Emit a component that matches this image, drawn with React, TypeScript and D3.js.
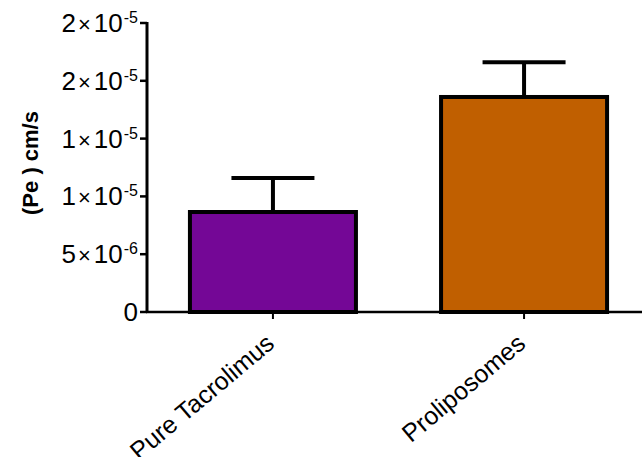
import React, { useRef, useEffect } from 'react';
import * as d3 from 'd3';

const categories = ['Pure Tacrolimus', 'Proliposomes'];
const means = [8.65e-6, 18.6e-6];
const errors = [2.95e-6, 3.0e-6];
const colors = ['#740796', '#C05F00'];
const tickValues = [0, 5e-6, 1e-5, 1.5e-5, 2e-5, 2.5e-5];
const tickMantissa = ['0', '5', '1', '1', '2', '2'];
const tickExponent = ['', '-6', '-5', '-5', '-5', '-5'];

export default function App() {
  const svgRef = useRef<SVGSVGElement>(null);

  useEffect(() => {
    const svg = d3.select(svgRef.current);
    svg.selectAll('*').remove();
    const font = 'Liberation Sans, Arial, sans-serif';

    const y = d3.scaleLinear().domain([0, 2.5e-5]).range([312, 23]);
    const x = d3.scaleBand<string>()
      .domain(categories)
      .range([147, 650])
      .paddingInner(0.323)
      .paddingOuter(0.163);

    const rows = categories.map((c, i) => ({ name: c, mean: means[i], err: errors[i], color: colors[i] }));

    // bars
    svg.selectAll('rect.bar')
      .data(rows)
      .enter()
      .append('rect')
      .attr('class', 'bar')
      .attr('x', d => x(d.name)! + 2)
      .attr('y', d => y(d.mean))
      .attr('width', x.bandwidth() - 4)
      .attr('height', d => y(0) - y(d.mean))
      .attr('fill', d => d.color)
      .attr('stroke', '#000')
      .attr('stroke-width', 4);

    // error bars (upper only)
    const cx = (d: any) => x(d.name)! + x.bandwidth() / 2;
    svg.selectAll('line.err')
      .data(rows)
      .enter()
      .append('line')
      .attr('x1', cx).attr('x2', cx)
      .attr('y1', d => y(d.mean) - 2)
      .attr('y2', d => y(d.mean + d.err))
      .attr('stroke', '#000')
      .attr('stroke-width', 4);
    svg.selectAll('line.cap')
      .data(rows)
      .enter()
      .append('line')
      .attr('x1', d => cx(d) - 41.5).attr('x2', d => cx(d) + 41.5)
      .attr('y1', d => y(d.mean + d.err))
      .attr('y2', d => y(d.mean + d.err))
      .attr('stroke', '#000')
      .attr('stroke-width', 4);

    // x axis
    const xa = svg.append('g');
    xa.append('line')
      .attr('x1', 146).attr('x2', 650)
      .attr('y1', y(0)).attr('y2', y(0))
      .attr('stroke', '#000').attr('stroke-width', 2.5);
    categories.forEach(c => {
      const px = x(c)! + x.bandwidth() / 2;
      xa.append('line')
        .attr('x1', px).attr('x2', px)
        .attr('y1', y(0)).attr('y2', y(0) + 7)
        .attr('stroke', '#000').attr('stroke-width', 2);
      xa.append('text')
        .attr('transform', `translate(${px + 3},${y(0) + 34}) rotate(-40)`)
        .attr('text-anchor', 'end')
        .attr('font-family', font)
        .attr('font-size', 25)
        .text(c);
    });

    // y axis
    const ya = svg.append('g');
    ya.append('line')
      .attr('x1', 147).attr('x2', 147)
      .attr('y1', y(2.5e-5) - 1).attr('y2', y(0) + 1)
      .attr('stroke', '#000').attr('stroke-width', 3);
    tickValues.forEach((v, i) => {
      ya.append('line')
        .attr('x1', 140).attr('x2', 147)
        .attr('y1', y(v)).attr('y2', y(v))
        .attr('stroke', '#000').attr('stroke-width', 2.5);
      const t = ya.append('text')
        .attr('x', 138)
        .attr('y', y(v) + 9)
        .attr('text-anchor', 'end')
        .attr('font-family', font)
        .attr('font-size', 26);
      t.append('tspan').text(tickMantissa[i]);
      if (tickExponent[i]) {
        t.append('tspan').attr('font-size', 22).attr('dx', 2).text('\u00d7');
        t.append('tspan').attr('dx', 3).text('10');
        t.append('tspan').attr('font-size', 16).attr('dx', 1).attr('dy', -9).text(tickExponent[i]);
      }
    });

    // y label
    svg.append('text')
      .attr('transform', 'translate(38,163) rotate(-90)')
      .attr('text-anchor', 'middle')
      .attr('font-family', font)
      .attr('font-weight', 'bold')
      .attr('font-size', 22)
      .text('(Pe ) cm/s');
  }, []);

  return (
    <svg ref={svgRef} width={642} height={457}
      style={{ position: 'absolute', left: 0, top: 0, background: '#fff' }} />
  );
}
